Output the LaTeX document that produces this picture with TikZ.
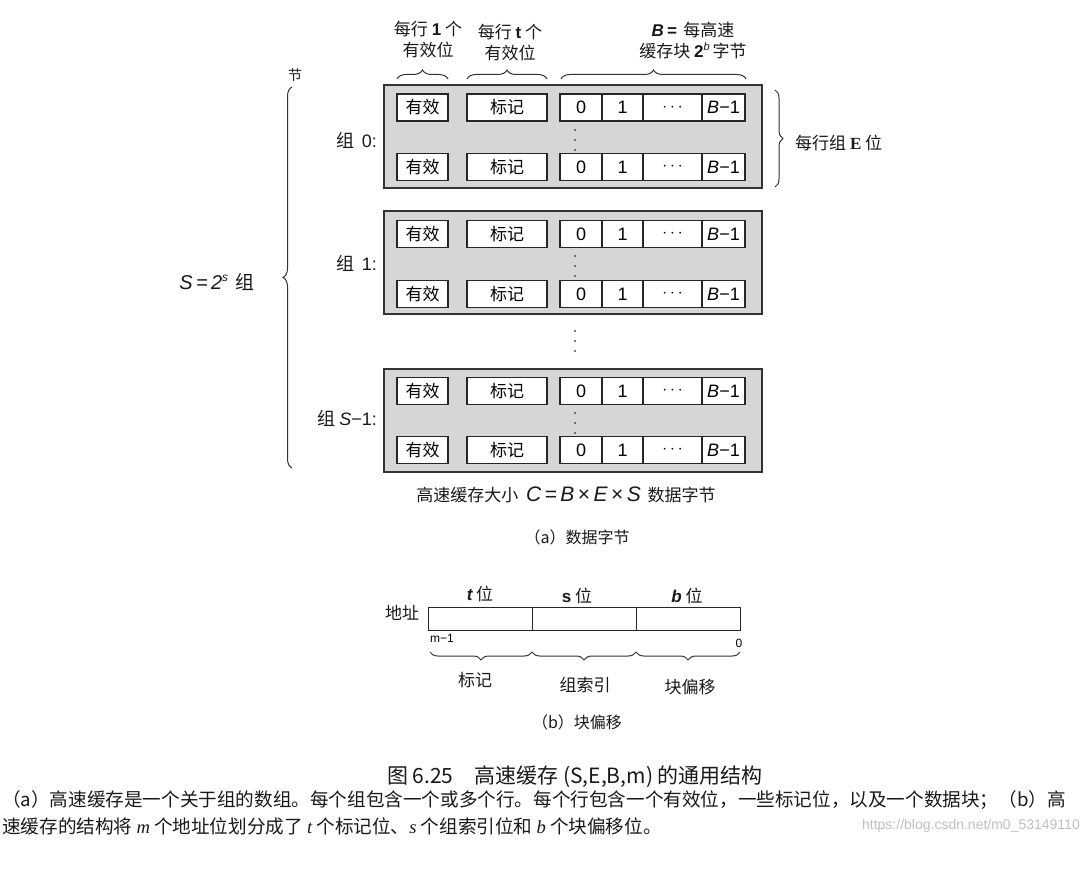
\documentclass[tikz,border=0pt]{standalone}
\usepackage{fontspec}
\setmainfont{Liberation Sans}
\newfontfamily\cjk{Noto Sans CJK SC}
\newfontfamily\lat{Liberation Sans}
\usetikzlibrary{decorations.pathreplacing}
\newcommand\mylatit[1]{{\lat\itshape #1}}
\newcommand\cacherow[2]{%
  \node[cell, minimum width=51pt] (#1v) at (422.5,#2) {有效};
  \node[cell, minimum width=80pt] (#1t) at (507,#2) {标记};
  \node[num, minimum width=42pt] (#1c0) at (581,#2) {0};
  \node[num, minimum width=41pt] (#1c1) at (622.5,#2) {1};
  \node[num, minimum width=59pt] (#1cd) at (672.5,#2) {$\cdots$};
  \node[num, minimum width=43pt] (#1cB) at (723.5,#2) {\mylatit{B}−1};
}
\tikzset{
  setbox/.style={draw=black!80, fill=black!16, line width=1.3pt, minimum width=378pt, minimum height=103pt, inner sep=0pt},
  cell/.style={draw=black!85, fill=white, line width=1.3pt, minimum height=27pt, inner sep=0pt, font=\cjk\fontsize{17}{17}\selectfont},
  num/.style={cell, font=\lat\fontsize{18}{18}\selectfont},
  lbl/.style={inner sep=0pt, font=\cjk\fontsize{17}{21}\selectfont, text=black!90, align=center},
  bracestyle/.style={decorate, decoration={brace, amplitude=#1}, line width=1pt, draw=black!80},
  dotmark/.style={fill=black!70},
}
\begin{document}
\begin{tikzpicture}[x=1pt,y=-1pt]
\fill[white] (0,0) rectangle (1086,869);
\useasboundingbox (0,0) rectangle (1086,869);

% header labels
\node[lbl] (h1) at (428,40) {每行 {\lat\bfseries 1} 个\\有效位};
\node[lbl] (h2) at (510,43) {每行 {\lat\bfseries t} 个\\有效位};
\node[lbl] (h3) at (693,41) {{\lat\bfseries\itshape B\,=} \,每高速\\缓存块 {\lat\bfseries 2}\raisebox{0.8ex}{\lat\itshape\fontsize{11}{11}\selectfont b}\,字节};
\coordinate (b1l) at (397,79); \coordinate (b1r) at (448,79);
\coordinate (b2l) at (467,79); \coordinate (b2r) at (547,79);
\coordinate (b3l) at (561,79); \coordinate (b3r) at (746,79);
\draw[bracestyle=9pt] (b1l) -- (b1r);
\draw[bracestyle=9pt] (b2l) -- (b2r);
\draw[bracestyle=9pt] (b3l) -- (b3r);

% sets
\node[setbox] (set0) at (573,136.5) {};
\node[setbox] (set1) at (573,262.5) {};
\node[setbox] (setS) at (573,420.5) {};
\cacherow{a}{107.5}
\cacherow{b}{167}
\cacherow{c}{234}
\cacherow{d}{294}
\cacherow{e}{391}
\cacherow{f}{450}
\foreach \yy in {130,140,150} {\fill[dotmark] (575,\yy) circle (1.2pt);}
\foreach \yy in {256,266,276} {\fill[dotmark] (575,\yy) circle (1.2pt);}
\foreach \yy in {413,423,433} {\fill[dotmark] (575,\yy) circle (1.2pt);}
\foreach \yy in {331,341,351} {\fill[dotmark] (575,\yy) circle (1.2pt);}

% set labels
\node[lbl, anchor=east, font=\cjk\fontsize{18}{21}\selectfont] (l0) at (377,140) {组\, {\lat 0:}};
\node[lbl, anchor=east, font=\cjk\fontsize{18}{21}\selectfont] (l1) at (377,263) {组\, {\lat 1:}};
\node[lbl, anchor=east, font=\cjk\fontsize{18}{21}\selectfont] (lS) at (377,418) {组 {\lat\itshape S}{\lat −1:}};

% right brace
\coordinate (rbt) at (775,90); \coordinate (rbb) at (775,187);
\draw[bracestyle=8pt] (rbt) -- (rbb);
\node[lbl, anchor=west] (elbl) at (795,143) {每行组 {\fontspec{Liberation Serif}\bfseries E} 位};

% left brace
\coordinate (lbt) at (292,87); \coordinate (lbb) at (292,468);
\draw[bracestyle=9pt] (lbb) -- (lbt);
\node[lbl] (jie) at (295,75) {\fontsize{14}{14}\selectfont 节};
\node[lbl, font=\cjk\fontsize{19}{21}\selectfont] (Slbl) at (217,282) {{\lat\itshape\fontsize{20}{20}\selectfont S\,=\,2}\raisebox{0.8ex}{\lat\itshape\fontsize{12}{12}\selectfont s}\ \,组};

% size line
\node[lbl] (size) at (566,495) {高速缓存大小 \ {\lat\itshape\fontsize{21}{21}\selectfont C\,=\,B\,\upshape×\,\itshape E\,\upshape×\,\itshape S} \,数据字节};
\node[lbl] (capa) at (577,537) {\fontsize{16}{16}\selectfont （a）数据字节};

% address
\node[lbl] (addr) at (402,613) {地址};
\node[draw=black!85, line width=1pt, minimum width=104pt, minimum height=23pt, inner sep=0pt] (tf) at (480,618.5) {};
\node[draw=black!85, line width=1pt, minimum width=104pt, minimum height=23pt, inner sep=0pt] (sf) at (584,618.5) {};
\node[draw=black!85, line width=1pt, minimum width=104pt, minimum height=23pt, inner sep=0pt] (bf) at (688,618.5) {};
\node[lbl] (tl) at (480,594) {{\lat\bfseries\itshape t} 位};
\node[lbl] (sl) at (577,596) {{\lat\bfseries s} 位};
\node[lbl] (bl) at (687,596) {{\lat\bfseries\itshape b} 位};
\node[inner sep=0pt, font=\lat\fontsize{12}{12}\selectfont] (m1) at (442,638) {m−1};
\node[inner sep=0pt, font=\lat\fontsize{12}{12}\selectfont] (zero) at (739,643) {0};
\coordinate (a0) at (430,652); \coordinate (a1) at (532,652);
\coordinate (a2) at (636,652); \coordinate (a3) at (740,652);
\draw[bracestyle=8pt] (a1) -- (a0);
\draw[bracestyle=8pt] (a2) -- (a1);
\draw[bracestyle=8pt] (a3) -- (a2);
\node[lbl] (tagl) at (475,680) {标记};
\node[lbl] (idxl) at (585,685) {组索引};
\node[lbl] (offl) at (690,687) {块偏移};
\node[lbl] (capb) at (577,722) {\fontsize{16}{16}\selectfont （b）块偏移};

% caption
\node[lbl] (title) at (575,777) {\fontsize{21}{21}\selectfont 图 6.25\quad 高速缓存 (S,E,B,m) 的通用结构};
\node[lbl, anchor=west] (p1) at (2,800) {\fontsize{18.6}{19}\selectfont （a）高速缓存是一个关于组的数组。每个组包含一个或多个行。每个行包含一个有效位，一些标记位，以及一个数据块；（b）高};
\node[lbl, anchor=west] (p2) at (2,826) {\fontsize{18.6}{19}\selectfont 速缓存的结构将 {\fontspec{Liberation Serif}\itshape m} 个地址位划分成了 {\fontspec{Liberation Serif}\itshape t} 个标记位、{\fontspec{Liberation Serif}\itshape s} 个组索引位和 {\fontspec{Liberation Serif}\itshape b} 个块偏移位。};
\node[inner sep=0pt, anchor=east, text=black!25, font=\lat\fontsize{14}{14}\selectfont] (wm) at (1080,826) {https://blog.csdn.net/m0\_53149110};
\end{tikzpicture}
\end{document}
